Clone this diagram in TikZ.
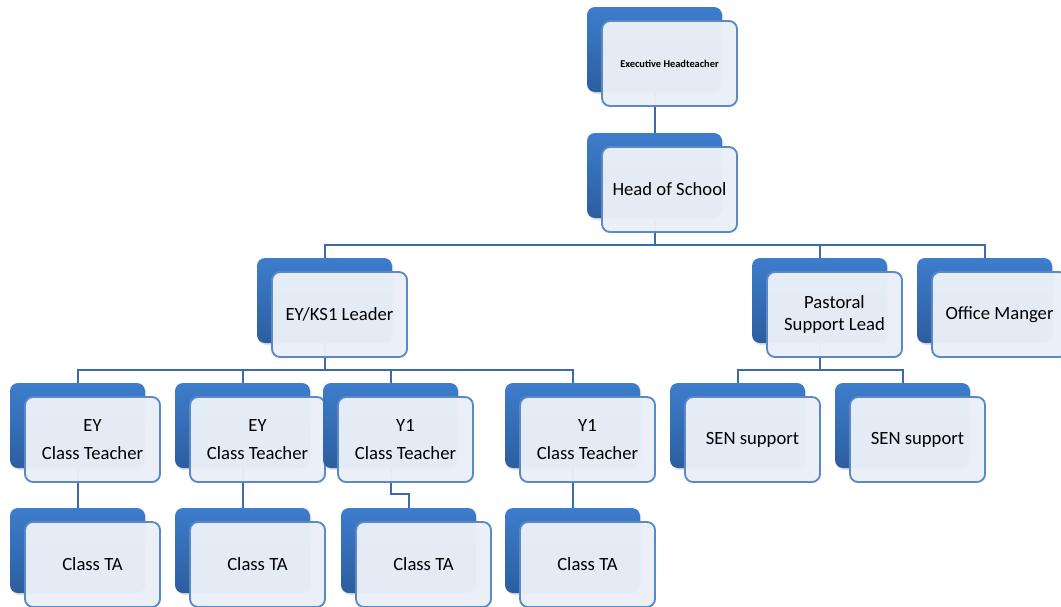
\documentclass[tikz,border=0pt]{standalone}
\usepackage{fontspec}
\setmainfont{Carlito}
\usetikzlibrary{shadows,backgrounds}
\definecolor{backtop}{HTML}{3D7DCC}
\definecolor{backbot}{HTML}{2C5E9F}
\definecolor{frontfill}{HTML}{EAF0F8}
\definecolor{frontline}{HTML}{5A89C5}
\definecolor{linkc}{HTML}{3C6CA6}
\tikzset{
  backbox/.style={rectangle, rounded corners=6pt, minimum width=101.25pt, minimum height=63.75pt,
    inner sep=0pt, top color=backtop, bottom color=backbot, draw=none,
    drop shadow={opacity=0.25, shadow xshift=1pt, shadow yshift=-1.5pt}},
  frontbox/.style={rectangle, rounded corners=6pt, minimum width=101.25pt, minimum height=63.75pt,
    inner sep=0pt, fill=frontfill, fill opacity=0.97, text opacity=1, draw=frontline,
    line width=1.4pt, align=center, font=\fontsize{14}{17}\selectfont},
  link/.style={draw=linkc, line width=1.5pt},
}
\newcommand\orgunit[4]{%
  \node[backbox] (#1) at (#2+67.5,#3+42.5) {};
  \node[frontbox] (#1f) at (#2+82.5,#3+56.5) {#4};}
\begin{document}
\begin{tikzpicture}[x=0.75pt,y=-0.75pt]
\useasboundingbox (0,0) rectangle (1061,607);
\orgunit{exec}{587}{7}{{\bfseries\fontsize{7.8}{9}\selectfont Executive Headteacher}}
\orgunit{hos}{587}{133}{Head of School}
\orgunit{eyks}{257}{258}{EY/KS1 Leader}
\orgunit{past}{752}{258}{Pastoral\\Support Lead}
\orgunit{office}{917}{258}{Office Manger}
\orgunit{eya}{10}{383}{EY\\[4pt]Class Teacher}
\orgunit{eyb}{175}{383}{EY\\[4pt]Class Teacher}
\orgunit{yoa}{323}{383}{Y1\\[4pt]Class Teacher}
\orgunit{yob}{505}{383}{Y1\\[4pt]Class Teacher}
\orgunit{sena}{670}{383}{SEN support}
\orgunit{senb}{835}{383}{SEN support}
\orgunit{taa}{10}{508}{Class TA}
\orgunit{tab}{175}{508}{Class TA}
\orgunit{tac}{341}{508}{Class TA}
\orgunit{tad}{505}{508}{Class TA}
\coordinate (barA) at (0,245);
\coordinate (barB) at (0,370);
\coordinate (jog) at (0,494);
\begin{scope}[on background layer]
  \draw[link] (exec.south) -- (hos.north);
  \draw[link] (hos.south) -- (hos.south |- barA) -| (eyks.north);
  \draw[link] (hos.south |- barA) -| (past.north);
  \draw[link] (hos.south |- barA) -| (office.north);
  \draw[link] (eyks.south) -- (eyks.south |- barB) -| (eya.north);
  \draw[link] (eyks.south |- barB) -| (eyb.north);
  \draw[link] (eyks.south |- barB) -| (yoa.north);
  \draw[link] (eyks.south |- barB) -| (yob.north);
  \draw[link] (past.south) -- (past.south |- barB) -| (sena.north);
  \draw[link] (past.south |- barB) -| (senb.north);
  \draw[link] (eya.south) -- (taa.north);
  \draw[link] (eyb.south) -- (tab.north);
  \draw[link] (yoa.south) -- (yoa.south |- jog) -| (tac.north);
  \draw[link] (yob.south) -- (tad.north);
\end{scope}
\end{tikzpicture}
\end{document}
